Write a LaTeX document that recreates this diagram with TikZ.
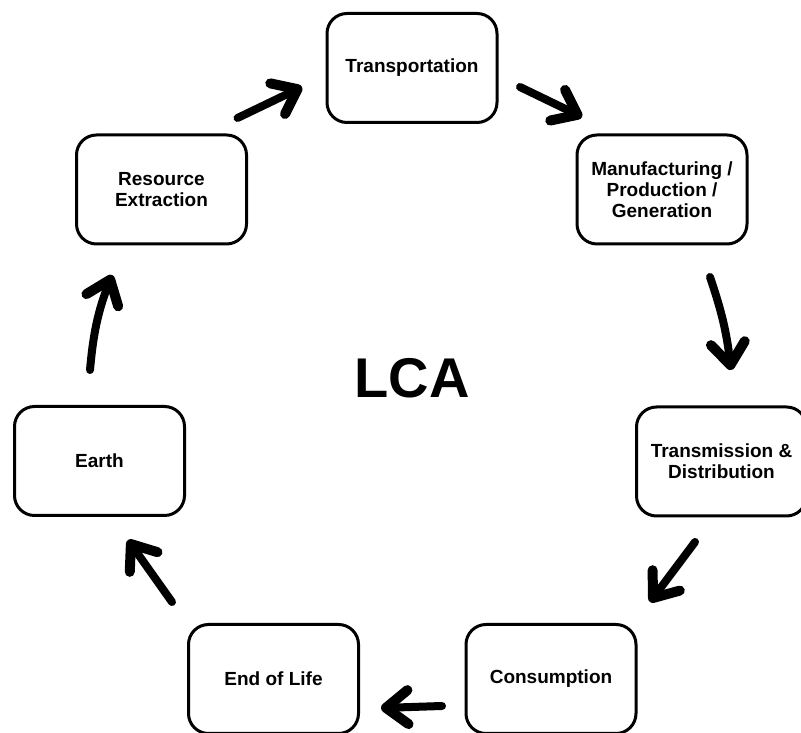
\documentclass[tikz,border=0pt]{standalone}
\usepackage{fontspec}
\setmainfont{Liberation Sans}
\usetikzlibrary{arrows.meta,calc}

\begin{document}
\begin{tikzpicture}[x=1pt,y=1pt,
  stage/.style={draw, line width=3pt, rounded corners=20pt,
    minimum width=170pt, minimum height=109pt, align=center,
    font=\fontsize{19}{21}\selectfont\bfseries},
  flow/.style={line width=8pt, line cap=round,
    -{Straight Barb[round, length=22pt, width=34pt, line width=10pt]}}]
  \useasboundingbox (0,0) rectangle (801,733);
  \clip (0,0) rectangle (801,733);

  % life cycle stages, clockwise from the top
  \node[stage] (transport) at (412,665) {Transportation};
  \node[stage] (manufact) at (662,543.5) {Manufacturing /\\Production /\\Generation};
  \node[stage] (transmit) at (721.5,271.5) {Transmission \&\\Distribution};
  \node[stage] (consume) at (551,54) {Consumption};
  \node[stage] (endlife) at (273.5,54) {End of Life};
  \node[stage] (earth) at (99.5,272) {Earth};
  \node[stage] (resource) at (161.5,543.5) {Resource\\Extraction};

  \node[font=\fontsize{56}{60}\selectfont\bfseries] (lca) at (412,355) {LCA};

  % loose ends of the arrows, set off from the stage boxes
  \coordinate (res-out) at ($(resource.north east)+(-10.5,15.5)$);
  \coordinate (tra-in) at ($(transport.west)+(-23.5,-19)$);
  \coordinate (tra-out) at ($(transport.east)+(21.5,-19)$);
  \coordinate (man-in) at ($(manufact.north west)+(6.5,16.5)$);
  \coordinate (man-out) at ($(manufact.south)+(48,-31.5)$);
  \coordinate (tsm-in) at ($(transmit.north)+(9.5,35.5)$);
  \coordinate (tsm-out) at ($(transmit.south)+(-26.5,-24.5)$);
  \coordinate (con-in) at ($(consume.north east)+(12.5,21)$);
  \coordinate (con-out) at ($(consume.west)+(-22.5,-27)$);
  \coordinate (end-in) at ($(endlife.east)+(21,-29)$);
  \coordinate (end-out) at ($(endlife.north west)+(-15,21)$);
  \coordinate (ear-in) at ($(earth.south)+(28.5,-23)$);
  \coordinate (ear-out) at ($(earth.north)+(-9.5,35)$);
  \coordinate (res-in) at ($(resource.south)+(-49.5,-29.5)$);

  \draw[flow] (res-out) -- (tra-in);
  \draw[flow] (tra-out) -- (man-in);
  \draw[flow] (man-out) to[bend left=6] (tsm-in);
  \draw[flow] (tsm-out) -- (con-in);
  \draw[flow] (con-out) -- (end-in);
  \draw[flow] (end-out) -- (ear-in);
  \draw[flow] (ear-out) to[bend left=8] (res-in);
\end{tikzpicture}
\end{document}
